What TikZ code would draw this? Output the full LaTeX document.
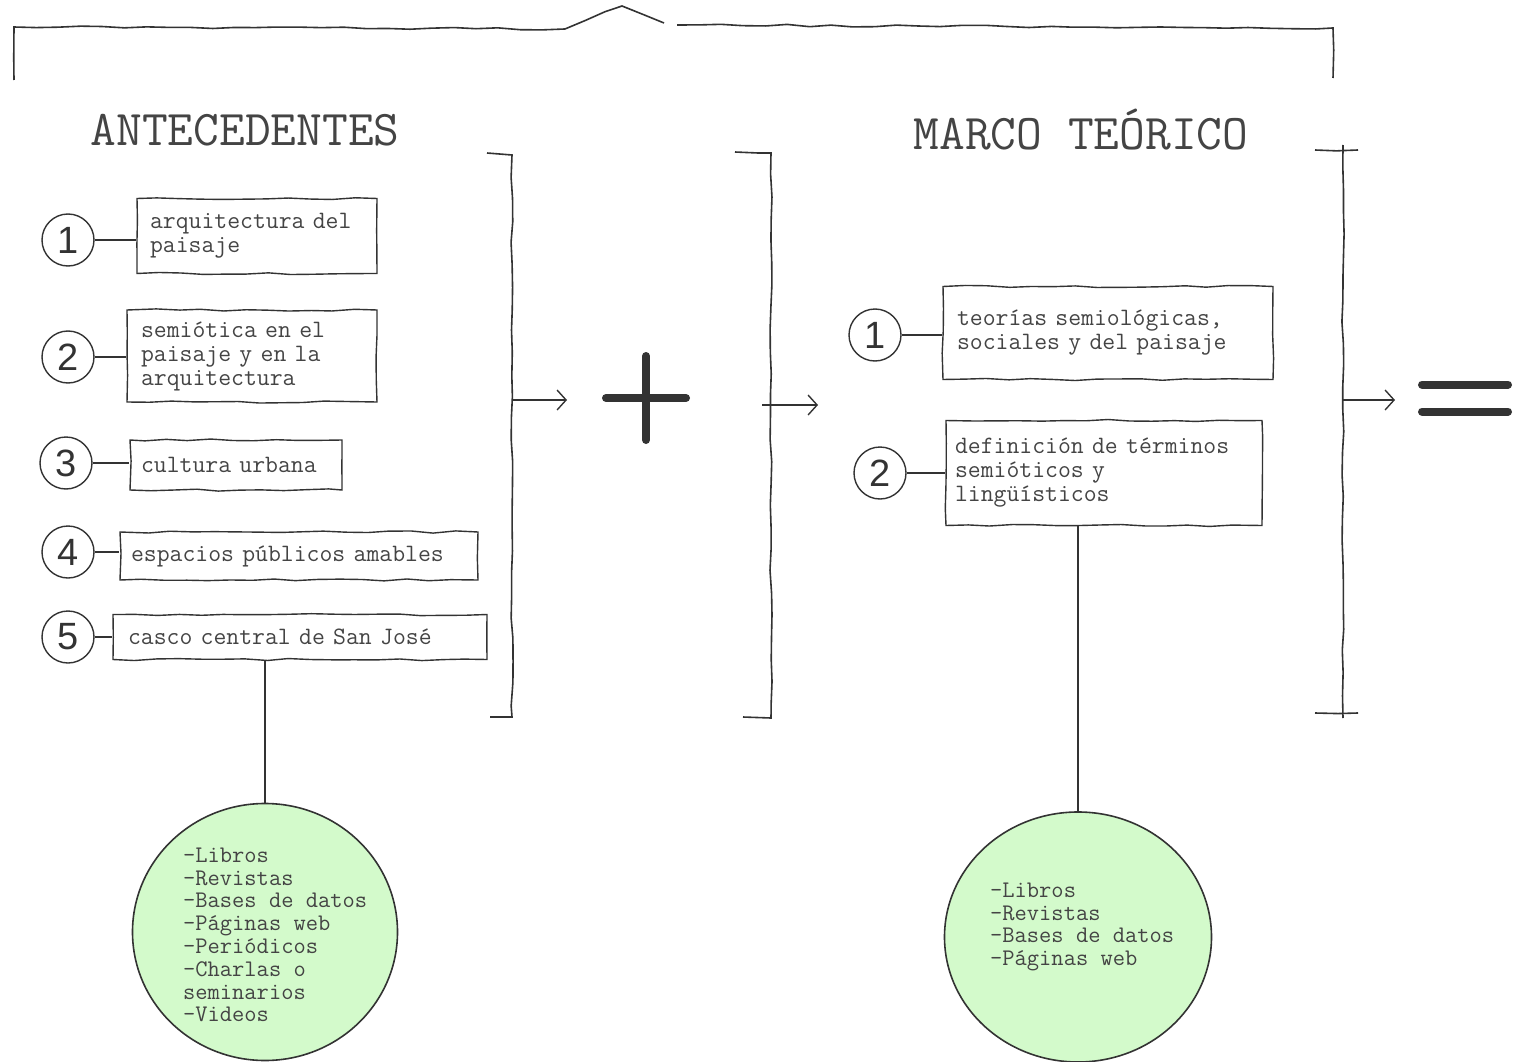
\documentclass[tikz,border=0pt]{standalone}
\usepackage{fontspec}
\newfontfamily\numfont{Liberation Sans}
\usetikzlibrary{shapes.geometric, arrows.meta, decorations.pathmorphing}
\definecolor{ink}{HTML}{333333}
\definecolor{txt}{HTML}{444444}
\definecolor{leaf}{HTML}{D3FACB}
\tikzset{
  rough/.style={decorate, decoration={random steps, segment length=22pt, amplitude=1.1pt}},
  topic/.style={draw=ink, line width=1.4pt, rough, rectangle, align=left, text=txt, inner ysep=0pt, font=\ttfamily\fontsize{25}{24}\selectfont},
  num/.style={draw=ink, line width=1.4pt, circle, minimum size=52pt, inner sep=0pt, text=ink, font=\numfont\fontsize{38}{38}\selectfont},
  link/.style={draw=ink, line width=1.4pt},
  brk/.style={draw=ink, line width=1.6pt, rough},
  go/.style={->, draw=ink, line width=1.4pt, >={Straight Barb[length=9pt, width=20pt]}},
  source/.style={draw=ink, line width=1.6pt, fill=leaf, ellipse, inner sep=0pt},
  srctext/.style={align=left, text=txt, inner sep=0pt, font=\ttfamily\fontsize{23.8}{22.8}\selectfont},
  head/.style={text=txt, font=\ttfamily\fontsize{50}{50}\selectfont},
  sign/.style={draw=ink, line width=8pt, line cap=round}
}
\pgfmathsetseed{7}
\begin{document}
\begin{tikzpicture}[x=1pt, y=-1pt]
\useasboundingbox (0,0) rectangle (1521,1062);
% top brace
\draw[brk] (14,80) -- (14,27) -- (565,29) -- (622,6) -- (664,23);
\draw[brk] (677,25) -- (1333,28) -- (1333,78);
% headings
\node[head] (ante) at (245,130) {ANTECEDENTES};
\node[head] (marco) at (1081,130) {MARCO TEÓRICO};
% antecedentes
\node[topic, text width=214pt, inner xsep=13pt, minimum height=75pt] (b1) at (257,236) {arquitectura del\\paisaje};
\node[topic, text width=222pt, inner xsep=14pt, minimum height=92pt] (b2) at (252,356) {semiótica en el\\paisaje y en la\\arquitectura};
\node[topic, text width=190pt, inner xsep=11pt, minimum height=50pt] (b3) at (236,465) {cultura urbana};
\node[topic, text width=336pt, inner xsep=11pt, minimum height=48pt] (b4) at (299,556) {espacios públicos amables};
\node[topic, text width=344pt, inner xsep=15pt, minimum height=45pt] (b5) at (300,637) {casco central de San José};
\node[num] (n1) at (68,240) {1};
\node[num] (n2) at (68,357) {2};
\node[num] (n3) at (66,463) {3};
\node[num] (n4) at (68,552) {4};
\node[num] (n5) at (68,637) {5};
\draw[link] (n1) -- (n1 -| b1.west);
\draw[link] (n2) -- (n2 -| b2.west);
\draw[link] (n3) -- (n3 -| b3.west);
\draw[link] (n4) -- (n4 -| b4.west);
\draw[link] (n5) -- (n5 -| b5.west);
% marco teorico
\node[topic, text width=302pt, inner xsep=14pt, minimum height=93pt] (r1) at (1108,333) {teorías semiológicas,\\sociales y del paisaje};
\node[topic, text width=298pt, inner xsep=9pt, minimum height=105pt] (r2) at (1104,473) {definición de términos\\semióticos y\\lingüísticos};
\node[num] (m1) at (875,335) {1};
\node[num] (m2) at (880,473) {2};
\draw[link] (m1) -- (m1 -| r1.west);
\draw[link] (m2) -- (m2 -| r2.west);
% sources
\node[source, minimum width=265pt, minimum height=257pt] (src1) at (265,932) {};
\node[srctext, anchor=west] (src1txt) at (183,935) {-Libros\\-Revistas\\-Bases de datos\\-Páginas web\\-Periódicos\\-Charlas o\\seminarios\\-Videos};
\node[source, minimum width=267pt, minimum height=250pt] (src2) at (1078,937) {};
\node[srctext, anchor=west] (src2txt) at (990,927) {-Libros\\-Revistas\\-Bases de datos\\-Páginas web};
\draw[link] (b5.south -| src1) -- (src1.north);
\draw[link] (r2.south -| src2) -- (src2.north);
% brackets
\draw[brk] (487,153) -- (512,155) -- (512,717) -- (490,717);
\draw[brk] (735,152) -- (771,153) -- (771,718) -- (743,717);
\draw[brk] (1315,150) -- (1358,150);
\draw[brk] (1343,145) -- (1343,718);
\draw[brk] (1315,713) -- (1358,713);
\coordinate (lb) at (512,400);
\coordinate (lbend) at (567,400);
\coordinate (mb) at (762,405);
\coordinate (mbend) at (818,405);
\coordinate (rb) at (1343,400);
\coordinate (rbend) at (1395,400);
\draw[go] (lb) -- (lbend);
\draw[go] (mb) -- (mbend);
\draw[go] (rb) -- (rbend);
% signs
\coordinate (plus) at (646,398);
\coordinate (eq) at (1465,398);
\draw[sign] ([xshift=-40pt]plus) -- ([xshift=40pt]plus) ([yshift=-42pt]plus) -- ([yshift=42pt]plus);
\draw[sign] ([shift={(-43pt,13.5pt)}]eq) -- ([shift={(43pt,13.5pt)}]eq) ([shift={(-43pt,-13.5pt)}]eq) -- ([shift={(43pt,-13.5pt)}]eq);
\end{tikzpicture}
\end{document}
